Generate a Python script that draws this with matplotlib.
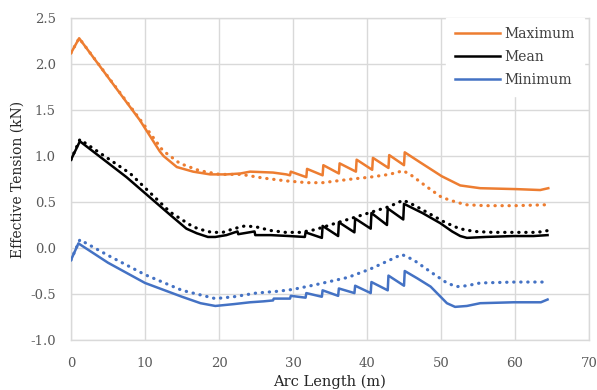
import numpy as np
import matplotlib
matplotlib.use('Agg')
import matplotlib.pyplot as plt

plt.rcParams['font.family'] = 'DejaVu Serif'
plt.rcParams['axes.unicode_minus'] = False

# Maximum
max_x = [0, 1.1, 9.3, 12.0, 12.5, 14.3, 16.5, 18.8, 21.0, 22.9, 24.2, 27.3, 29.1, 29.6, 29.7,
         31.8, 31.9, 34.0, 34.1, 36.2, 36.3, 38.5, 38.6, 40.7, 40.8, 42.9, 43.0, 45.0, 45.1,
         47.2, 50.1, 52.6, 55.3, 60.2, 63.4, 64.5]
max_y = [2.12, 2.28, 1.39, 1.05, 1.00, 0.88, 0.83, 0.80, 0.80, 0.81, 0.83, 0.82, 0.80, 0.79, 0.83,
         0.77, 0.86, 0.79, 0.90, 0.81, 0.92, 0.83, 0.96, 0.85, 0.98, 0.87, 1.01, 0.90, 1.04,
         0.93, 0.78, 0.68, 0.65, 0.64, 0.63, 0.65]
max_dot_x = [0, 1.1, 9.3, 12.4, 14.7, 17.4, 20.1, 23.0, 26.0, 29.0, 31.9, 34.0, 36.0, 38.0, 40.4,
             43.0, 44.9, 46.0, 48.0, 50.1, 52.0, 53.4, 56.0, 60.0, 64.3]
max_dot_y = [2.12, 2.28, 1.40, 1.06, 0.92, 0.84, 0.80, 0.80, 0.76, 0.73, 0.71, 0.71, 0.73, 0.75, 0.77,
             0.80, 0.84, 0.79, 0.67, 0.55, 0.50, 0.47, 0.46, 0.46, 0.47]

# Mean
mean_x = [0, 1.2, 7.5, 13.4, 15.6, 17.0, 18.5, 19.5, 21.0, 22.5, 22.6, 24.8, 24.9, 27.0, 29.5,
          31.6, 31.7, 33.9, 34.0, 36.1, 36.2, 38.3, 38.4, 40.5, 40.6, 42.7, 42.8, 44.9, 45.0,
          47.5, 49.9, 51.5, 52.6, 53.5, 56.0, 59.8, 62.5, 64.4]
mean_y = [0.96, 1.16, 0.77, 0.36, 0.21, 0.16, 0.12, 0.12, 0.14, 0.18, 0.15, 0.18, 0.14, 0.14, 0.13,
          0.12, 0.17, 0.11, 0.24, 0.13, 0.28, 0.17, 0.32, 0.21, 0.38, 0.25, 0.43, 0.31, 0.48,
          0.38, 0.27, 0.18, 0.13, 0.11, 0.12, 0.13, 0.13, 0.14]
mean_dot_x = [0, 1.2, 8.0, 13.4, 16.5, 17.6, 19.0, 20.5, 22.0, 23.5, 25.0, 27.0, 29.0, 31.0, 33.0,
              35.0, 37.0, 39.0, 41.0, 43.0, 44.9, 46.5, 48.5, 50.5, 52.5, 54.5, 57.0, 60.0, 63.0, 64.5]
mean_dot_y = [0.96, 1.18, 0.81, 0.39, 0.23, 0.20, 0.17, 0.17, 0.21, 0.24, 0.23, 0.19, 0.17, 0.17, 0.20,
              0.25, 0.30, 0.35, 0.40, 0.45, 0.52, 0.46, 0.37, 0.28, 0.21, 0.18, 0.17, 0.17, 0.17, 0.19]

# Minimum
min_x = [0, 1.0, 5.0, 10.0, 15.0, 17.5, 19.5, 22.0, 24.2, 26.0, 27.3, 27.4, 29.6, 29.7,
         31.7, 31.8, 33.9, 34.0, 36.1, 36.2, 38.3, 38.4, 40.5, 40.6, 42.8, 42.9, 45.0, 45.1,
         46.8, 48.6, 50.8, 51.9, 53.5, 55.3, 59.8, 63.5, 64.4]
min_y = [-0.13, 0.05, -0.16, -0.38, -0.53, -0.60, -0.63, -0.61, -0.59, -0.58, -0.57, -0.55, -0.55, -0.52,
         -0.54, -0.49, -0.53, -0.46, -0.52, -0.44, -0.49, -0.41, -0.49, -0.37, -0.46, -0.30, -0.41, -0.25,
         -0.33, -0.42, -0.60, -0.64, -0.63, -0.60, -0.59, -0.59, -0.56]
min_dot_x = [0, 1.2, 5.0, 10.0, 15.0, 19.5, 22.0, 25.0, 28.0, 30.0, 33.0, 37.4, 40.4, 43.1, 44.7,
             46.3, 48.6, 50.8, 52.1, 53.5, 55.3, 60.0, 63.9]
min_dot_y = [-0.13, 0.09, -0.08, -0.29, -0.46, -0.55, -0.53, -0.49, -0.47, -0.45, -0.40, -0.32, -0.23, -0.13, -0.07,
             -0.13, -0.26, -0.38, -0.42, -0.41, -0.38, -0.37, -0.37]

x_ticks = [0, 10, 20, 30, 40, 50, 60, 70]
y_ticks = [-1.0, -0.5, 0.0, 0.5, 1.0, 1.5, 2.0, 2.5]

ORANGE = '#ED7D31'
BLACK = '#000000'
BLUE = '#4472C4'
dots = (0, (0.1, 2.1))

fig = plt.figure(figsize=(5.97, 3.90), dpi=100)
ax = fig.add_axes([71 / 597, 1 - 340 / 390, 518 / 597, 322 / 390])

ax.plot(max_x, max_y, color=ORANGE, lw=1.8, label='Maximum', zorder=3)
ax.plot(mean_x, mean_y, color=BLACK, lw=1.8, label='Mean', zorder=3)
ax.plot(min_x, min_y, color=BLUE, lw=1.8, label='Minimum', zorder=3)
ax.plot(max_dot_x, max_dot_y, color=ORANGE, lw=2.3, linestyle=dots, dash_capstyle='round', zorder=3)
ax.plot(mean_dot_x, mean_dot_y, color=BLACK, lw=2.3, linestyle=dots, dash_capstyle='round', zorder=3)
ax.plot(min_dot_x, min_dot_y, color=BLUE, lw=2.3, linestyle=dots, dash_capstyle='round', zorder=3)

ax.set_xlim(0, 70)
ax.set_ylim(-1.0, 2.5)
ax.set_xticks(x_ticks)
ax.set_yticks(y_ticks)
ax.set_yticklabels(['%.1f' % v for v in y_ticks])
ax.tick_params(length=0, labelsize=9.5, labelcolor='#595959')
ax.tick_params(axis='x', pad=12)
ax.tick_params(axis='y', pad=11)
ax.grid(True, color='#D9D9D9', lw=1)
ax.set_axisbelow(True)
for s in ax.spines.values():
    s.set_color('#D9D9D9')
    s.set_linewidth(1)

ax.set_xlabel('Arc Length (m)', fontsize=10.5, color='#262626')
ax.set_ylabel('Effective Tension (kN)', fontsize=10, color='#262626')
ax.xaxis.set_label_coords(0.5, -35 / 322)
ax.yaxis.set_label_coords(-46 / 518, 0.5)

leg = ax.legend(loc='upper right', bbox_to_anchor=(1 - 5 / 518, 1),
                frameon=True, fontsize=10, handlelength=3.2,
                borderaxespad=0, borderpad=0.65, labelspacing=0.65, handletextpad=0.35)
leg.get_frame().set_facecolor('white')
leg.get_frame().set_edgecolor('white')
leg.get_frame().set_alpha(1)
leg.get_frame().set_boxstyle('square', pad=0)
for t in leg.get_texts():
    t.set_color('#404040')

fig.savefig('out.png', dpi=100)
